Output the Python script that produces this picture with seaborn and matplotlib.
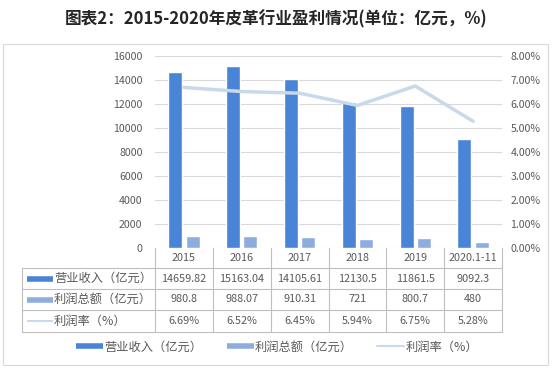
import numpy as np
import pandas as pd
import matplotlib
matplotlib.use("Agg")
from matplotlib import pyplot as plt
from matplotlib.lines import Line2D
from matplotlib.patches import Rectangle
import matplotlib.transforms as mtransforms
import seaborn as sns

sns.set_style("white")
plt.rcParams["font.family"] = ["Noto Sans CJK SC", "DejaVu Sans"]

# data
years = ["2015", "2016", "2017", "2018", "2019", "2020.1-11"]
revenue = [14659.82, 15163.04, 14105.61, 12130.5, 11861.5, 9092.3]
profit = [980.8, 988.07, 910.31, 721, 800.7, 480]
rate = [6.69, 6.52, 6.45, 5.94, 6.75, 5.28]
series_names = ["营业收入（亿元）", "利润总额（亿元）", "利润率（%）"]

dark = "#4a84d6"
light = "#8eaddf"
line_c = "#c8d9ec"
grid_c = "#d9d9d9"
text_c = "#595959"

W, H = 552, 371
fig = plt.figure(figsize=(W / 100, H / 100), dpi=100)


def fx(x):
    return x / W


def fy(y):
    return 1 - y / H


# outer frame
fig.add_artist(Rectangle((fx(3), fy(365)), fx(545), 321 / H, transform=fig.transFigure,
                         fill=False, edgecolor=grid_c, lw=0.8))

fig.text(0.5, fy(19), "图表2：2015-2020年皮革行业盈利情况(单位：亿元，%)",
         ha="center", va="center", fontsize=12, fontweight="bold", color="#262626")

ax = fig.add_axes([fx(155), fy(248), fx(347), 192 / H])

df = pd.DataFrame({
    "year": years * 2,
    "value": revenue + profit,
    "series": [series_names[0]] * 6 + [series_names[1]] * 6,
})
sns.barplot(data=df, x="year", y="value", hue="series", palette=[dark, light],
            width=0.6, gap=0.2, saturation=1, legend=False, ax=ax, zorder=2)

ax.set_xlim(-0.5, 5.5)
ax.set_ylim(0, 16000)
ax.set_yticks(range(0, 16001, 2000))
ax.yaxis.grid(True, color=grid_c, lw=0.8, zorder=0)
ax.set_axisbelow(True)
ax.set_xticks([])
ax.set_xlabel("")
ax.set_ylabel("")
for s in ax.spines.values():
    s.set_visible(False)
ax.tick_params(axis="y", length=0, pad=9, labelsize=7.6, labelcolor=text_c)

ax2 = ax.twinx()
sns.lineplot(x=np.arange(len(years)), y=rate, ax=ax2, color=line_c, lw=2.5)
ax2.set_ylim(0, 8)
ax2.set_yticks(range(0, 9))
ax2.set_yticklabels([f"{v:.2f}%" for v in range(0, 9)])
ax2.set_ylabel("")
for s in ax2.spines.values():
    s.set_visible(False)
ax2.tick_params(axis="y", length=0, pad=6, labelsize=7.6, labelcolor=text_c)
ax2.set_xlim(-0.5, 5.5)

# data table below the axes
tr = mtransforms.blended_transform_factory(ax.transData, fig.transFigure)
tbl_c = "#bfbfbf"
rows_y = [248, 268, 289, 310, 332]
for y in rows_y[1:]:
    fig.add_artist(Line2D([fx(22), fx(155)], [fy(y), fy(y)], transform=fig.transFigure, color=tbl_c, lw=0.8))
    fig.add_artist(Line2D([-0.5, 5.5], [fy(y), fy(y)], transform=tr, color=tbl_c, lw=0.8))
fig.add_artist(Line2D([fx(22), fx(22)], [fy(268), fy(332)], transform=fig.transFigure, color=tbl_c, lw=0.8))
for k in range(len(years) + 1):
    fig.add_artist(Line2D([k - 0.5, k - 0.5], [fy(248), fy(332)], transform=tr, color=tbl_c, lw=0.8))

row_vals = [
    [f"{v:.10g}" for v in revenue],
    [f"{v:.10g}" for v in profit],
    [f"{v:.2f}%" for v in rate],
]
for i, yr in enumerate(years):
    fig.text(i, fy(258), yr, transform=tr, ha="center", va="center", fontsize=7.8, color=text_c)
    for r in range(3):
        yc = (rows_y[r + 1] + rows_y[r + 2]) / 2
        fig.text(i, fy(yc), row_vals[r][i], transform=tr, ha="center", va="center",
                 fontsize=7.8, color=text_c)

key_colors = [dark, light, line_c]
for r in range(3):
    yc = (rows_y[r + 1] + rows_y[r + 2]) / 2
    kw = 4 if r < 2 else 1.5
    fig.add_artist(Line2D([fx(27), fx(53)], [fy(yc), fy(yc)], transform=fig.transFigure,
                          color=key_colors[r], lw=kw, solid_capstyle="butt"))
    fig.text(fx(54), fy(yc), series_names[r], ha="left", va="center", fontsize=8.8, color=text_c)

handles = [
    Line2D([], [], color=dark, lw=4, solid_capstyle="butt"),
    Line2D([], [], color=light, lw=4, solid_capstyle="butt"),
    Line2D([], [], color=line_c, lw=1.5),
]
fig.legend(handles, series_names, loc="center", bbox_to_anchor=(fx(277), fy(347)), ncol=3,
           frameon=False, fontsize=8.8, handlelength=2.2, handletextpad=0.1,
           columnspacing=2.0, labelcolor=text_c)

fig.savefig("out.png", dpi=100)
